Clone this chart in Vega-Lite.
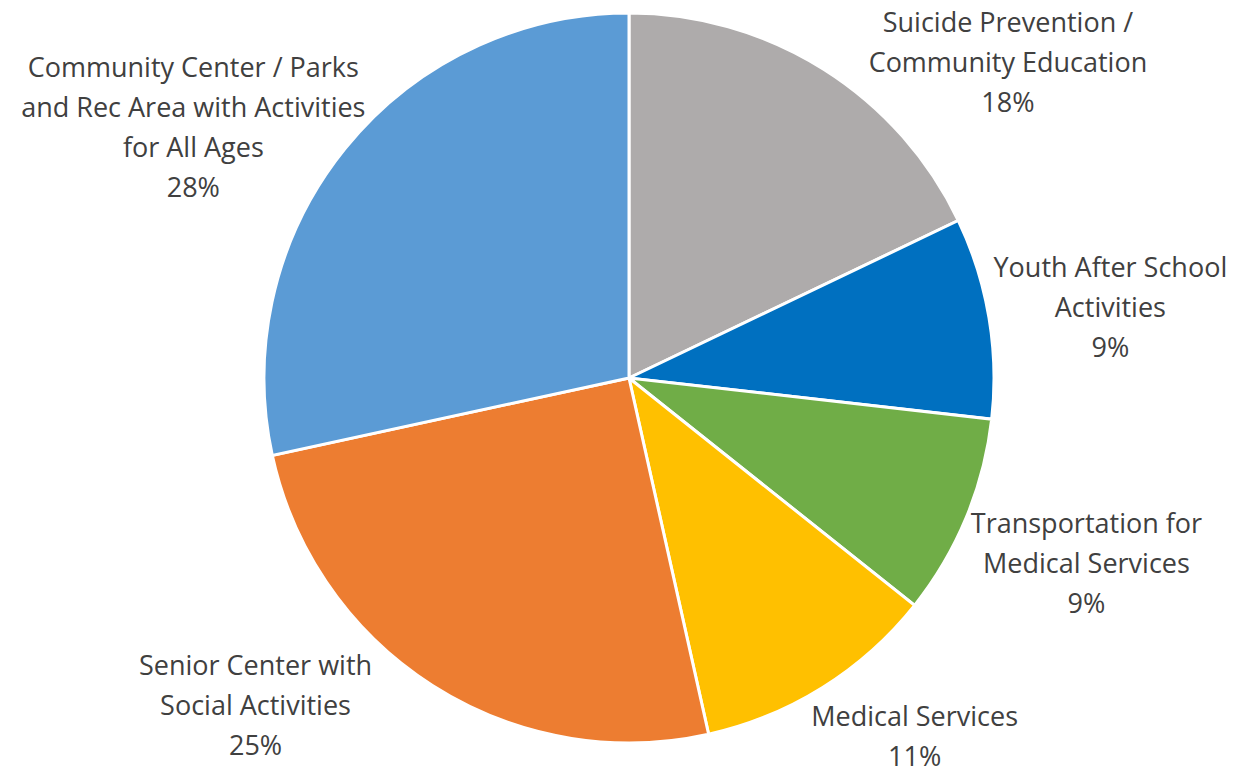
{
  "$schema": "https://vega.github.io/schema/vega-lite/v6.json",
  "width": 1228,
  "height": 756,
  "autosize": {"type": "none"},
  "padding": {"left": 15, "top": 0, "right": 0, "bottom": 13},
  "background": "white",
  "config": {"view": {"stroke": null}},
  "data": {
    "values": [
      {"order": 1, "category": "Suicide Prevention /\nCommunity Education", "pct": "18%", "value": 17.9},
      {"order": 2, "category": "Youth After School\nActivities", "pct": "9%", "value": 8.9},
      {"order": 3, "category": "Transportation for\nMedical Services", "pct": "9%", "value": 8.9},
      {"order": 4, "category": "Medical Services", "pct": "11%", "value": 10.8},
      {"order": 5, "category": "Senior Center with\nSocial Activities", "pct": "25%", "value": 25.1},
      {"order": 6, "category": "Community Center / Parks\nand Rec Area with Activities\nfor All Ages", "pct": "28%", "value": 28.4}
    ]
  },
  "transform": [
    {"stack": "value", "groupby": [], "sort": [{"field": "order", "order": "ascending"}], "as": ["t0", "t1"]},
    {"calculate": "(datum.t0 + datum.t1) / 2", "as": "tmid"},
    {"calculate": "datum.category + '\\n' + datum.pct", "as": "labelText"}
  ],
  "layer": [
    {
      "mark": {"type": "arc", "outerRadius": 365, "stroke": "white", "strokeWidth": 3},
      "encoding": {
        "theta": {"field": "t0", "type": "quantitative", "stack": null, "scale": {"domain": [0, 100]}},
        "theta2": {"field": "t1"},
        "color": {
          "field": "category",
          "type": "nominal",
          "legend": null,
          "scale": {
            "domain": [
              "Suicide Prevention /\nCommunity Education",
              "Youth After School\nActivities",
              "Transportation for\nMedical Services",
              "Medical Services",
              "Senior Center with\nSocial Activities",
              "Community Center / Parks\nand Rec Area with Activities\nfor All Ages"
            ],
            "range": ["#AEABAB", "#0070C0", "#70AD47", "#FFC000", "#ED7D31", "#5B9BD5"]
          }
        }
      }
    },
    {
      "transform": [{"filter": "datum.order == 1"}],
      "mark": {"type": "text", "radius": 480, "dx": 123, "dy": 52, "font": "Open Sans", "fontSize": 27, "lineHeight": 40, "lineBreak": "\n", "align": "center", "baseline": "middle", "color": "#404040"},
      "encoding": {"theta": {"field": "tmid", "type": "quantitative", "stack": null, "scale": {"domain": [0, 100]}}, "text": {"field": "labelText"}}
    },
    {
      "transform": [{"filter": "datum.order == 2"}],
      "mark": {"type": "text", "radius": 480, "dx": 8, "dy": -29, "font": "Open Sans", "fontSize": 27, "lineHeight": 40, "lineBreak": "\n", "align": "center", "baseline": "middle", "color": "#404040"},
      "encoding": {"theta": {"field": "tmid", "type": "quantitative", "stack": null, "scale": {"domain": [0, 100]}}, "text": {"field": "labelText"}}
    },
    {
      "transform": [{"filter": "datum.order == 3"}],
      "mark": {"type": "text", "radius": 480, "dx": 14, "dy": -37, "font": "Open Sans", "fontSize": 27, "lineHeight": 40, "lineBreak": "\n", "align": "center", "baseline": "middle", "color": "#404040"},
      "encoding": {"theta": {"field": "tmid", "type": "quantitative", "stack": null, "scale": {"domain": [0, 100]}}, "text": {"field": "labelText"}}
    },
    {
      "transform": [{"filter": "datum.order == 4"}],
      "mark": {"type": "text", "radius": 480, "dx": 31, "dy": -67, "font": "Open Sans", "fontSize": 27, "lineHeight": 40, "lineBreak": "\n", "align": "center", "baseline": "middle", "color": "#404040"},
      "encoding": {"theta": {"field": "tmid", "type": "quantitative", "stack": null, "scale": {"domain": [0, 100]}}, "text": {"field": "labelText"}}
    },
    {
      "transform": [{"filter": "datum.order == 5"}],
      "mark": {"type": "text", "radius": 480, "dx": -115, "dy": -115, "font": "Open Sans", "fontSize": 27, "lineHeight": 40, "lineBreak": "\n", "align": "center", "baseline": "middle", "color": "#404040"},
      "encoding": {"theta": {"field": "tmid", "type": "quantitative", "stack": null, "scale": {"domain": [0, 100]}}, "text": {"field": "labelText"}}
    },
    {
      "transform": [{"filter": "datum.order == 6"}],
      "mark": {"type": "text", "radius": 480, "dx": -62, "dy": -8, "font": "Open Sans", "fontSize": 27, "lineHeight": 40, "lineBreak": "\n", "align": "center", "baseline": "middle", "color": "#404040"},
      "encoding": {"theta": {"field": "tmid", "type": "quantitative", "stack": null, "scale": {"domain": [0, 100]}}, "text": {"field": "labelText"}}
    }
  ]
}
